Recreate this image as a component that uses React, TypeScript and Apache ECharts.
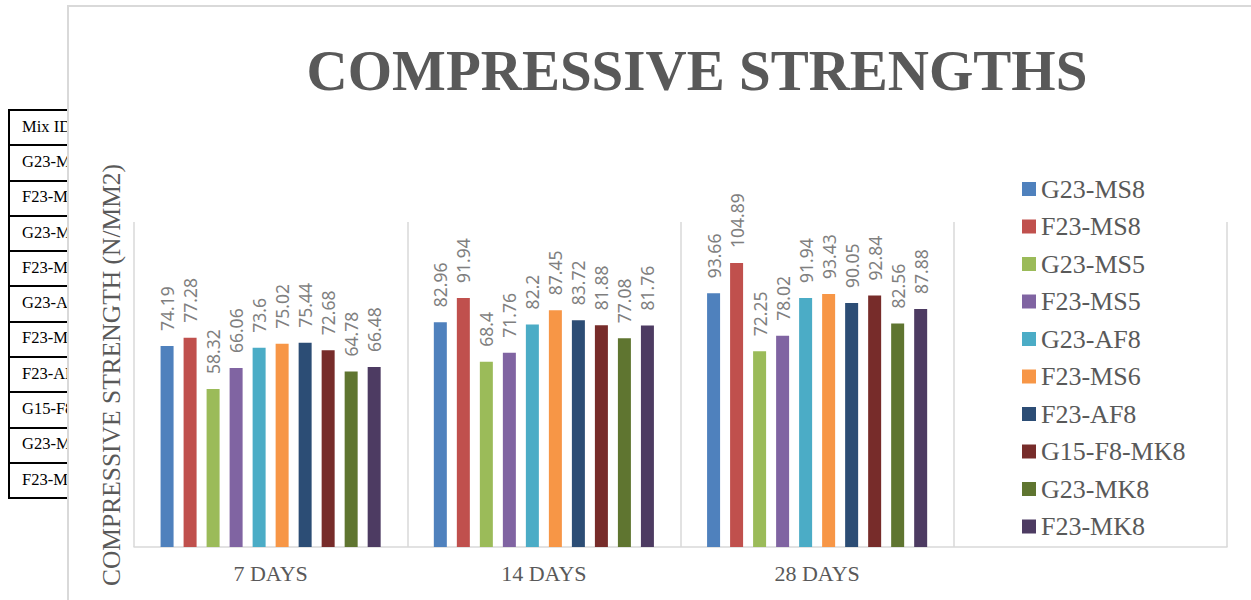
import React, { useEffect, useRef } from "react";
import * as echarts from "echarts";

const categories = ["7 DAYS", "14 DAYS", "28 DAYS", ""];

const seriesNames = [
  "G23-MS8",
  "F23-MS8",
  "G23-MS5",
  "F23-MS5",
  "G23-AF8",
  "F23-MS6",
  "F23-AF8",
  "G15-F8-MK8",
  "G23-MK8",
  "F23-MK8",
];

const g23ms8 = [74.19, 82.96, 93.66, null];
const f23ms8 = [77.28, 91.94, 104.89, null];
const g23ms5 = [58.32, 68.4, 72.25, null];
const f23ms5 = [66.06, 71.76, 78.02, null];
const g23af8 = [73.6, 82.2, 91.94, null];
const f23ms6 = [75.02, 87.45, 93.43, null];
const f23af8 = [75.44, 83.72, 90.05, null];
const g15f8mk8 = [72.68, 81.88, 92.84, null];
const g23mk8 = [64.78, 77.08, 82.56, null];
const f23mk8 = [66.48, 81.76, 87.88, null];

const seriesValues = [g23ms8, f23ms8, g23ms5, f23ms5, g23af8, f23ms6, f23af8, g15f8mk8, g23mk8, f23mk8];

const seriesColors = [
  "#4F81BD",
  "#C0504D",
  "#9BBB59",
  "#8064A2",
  "#4BACC6",
  "#F79646",
  "#2C4D75",
  "#772C2A",
  "#5F7530",
  "#4D3B62",
];

const tableHeader = "Mix ID";
const tableRows = seriesNames;

const SERIF = "'Liberation Serif', 'Times New Roman', serif";

export default function App() {
  const ref = useRef<HTMLDivElement>(null);

  useEffect(() => {
    const chart = echarts.init(ref.current!, null, { renderer: "svg" });
    chart.setOption({
      animation: false,
      backgroundColor: "#ffffff",
      title: {
        text: "COMPRESSIVE STRENGTHS",
        left: "center",
        top: 30,
        textStyle: {
          fontFamily: SERIF,
          fontWeight: "bold",
          fontSize: 57,
          color: "#595959",
        },
      },
      legend: {
        data: seriesNames,
        orient: "vertical",
        left: 948,
        top: 164,
        itemWidth: 14,
        itemHeight: 14,
        itemGap: 11.5,
        icon: "rect",
        textStyle: { fontFamily: SERIF, fontSize: 26, color: "#595959" },
      },
      grid: { left: 65, top: 215, width: 1093, height: 325, containLabel: false },
      xAxis: {
        type: "category",
        data: categories,
        axisLine: { show: true, lineStyle: { color: "#d9d9d9", width: 1.5 } },
        axisTick: { show: false },
        axisLabel: { fontFamily: SERIF, fontSize: 22, color: "#595959", margin: 15, interval: 0 },
        splitLine: { show: true, interval: 0, lineStyle: { color: "#d9d9d9", width: 1.5 } },
      },
      yAxis: {
        type: "value",
        min: 0,
        max: 120,
        interval: 20,
        axisLine: { show: false },
        axisTick: { show: false },
        axisLabel: { show: false },
        splitLine: { show: false },
        name: "COMPRESSIVE STRENGTH (N/MM2)",
        nameLocation: "middle",
        nameRotate: 90,
        nameGap: 10,
        nameTextStyle: {
          fontFamily: SERIF,
          fontSize: 25.5,
          color: "#595959",
          padding: [0, 0, 0, 19],
        },
      },
      series: seriesNames.map((name, i) => ({
        name,
        type: "bar",
        data: seriesValues[i],
        barWidth: 13,
        barGap: "77%",
        itemStyle: { color: seriesColors[i] },
        label: {
          show: true,
          position: "top",
          rotate: 90,
          align: "left",
          verticalAlign: "middle",
          distance: 15,
          color: "#7f7f7f",
          fontSize: 17.5,
          fontFamily: "'Noto Sans', 'Open Sans', sans-serif",
        },
      })),
    });
    return () => chart.dispose();
  }, []);

  return (
    <div
      style={{
        position: "absolute",
        left: 0,
        top: 0,
        width: 1251,
        height: 600,
        overflow: "hidden",
        background: "#ffffff",
      }}
    >
      <table
        style={{
          position: "absolute",
          left: 8,
          top: 109,
          borderCollapse: "collapse",
          fontFamily: SERIF,
          fontSize: 16.5,
          color: "#000000",
        }}
      >
        <tbody>
          {[tableHeader, ...tableRows].map((t) => (
            <tr key={t} style={{ height: 35.3 }}>
              <td
                style={{
                  border: "2px solid #000000",
                  padding: "0 0 2px 12px",
                  width: 110,
                  verticalAlign: "middle",
                  whiteSpace: "nowrap",
                }}
              >
                {t}
              </td>
            </tr>
          ))}
        </tbody>
      </table>
      <div
        ref={ref}
        style={{
          position: "absolute",
          left: 67,
          top: 5,
          width: 1258,
          height: 600,
          boxSizing: "border-box",
          borderLeft: "2px solid #d9d9d9",
          borderTop: "2px solid #d9d9d9",
          background: "#ffffff",
        }}
      />
    </div>
  );
}
